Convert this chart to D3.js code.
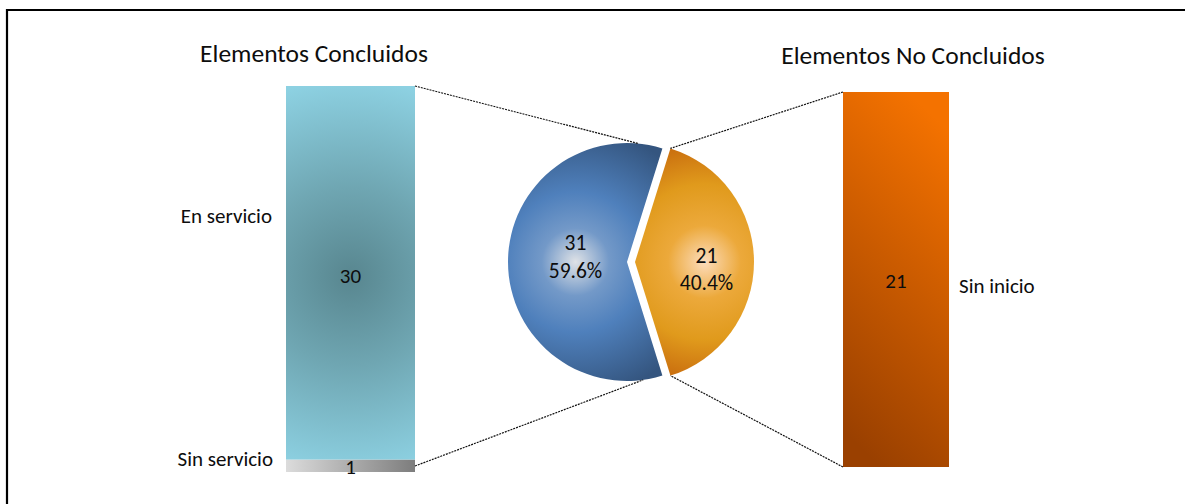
<!DOCTYPE html>
<html>
<head>
<meta charset="utf-8">
<script src="https://cdn.jsdelivr.net/npm/d3@7"></script>
<style>
  html, body { margin: 0; padding: 0; background: #fff; }
  svg { display: block; }
  text { font-family: Calibri, Carlito, Lato, "Noto Sans", sans-serif; fill: #0d0d0d; }
</style>
</head>
<body>
<svg id="chart" width="1185" height="504"></svg>
<script>
// ---------- data ----------
const pieCategories = ["Elementos Concluidos", "Elementos No Concluidos"];
const pieValues = [31, 21];
const leftCategories = ["Sin servicio", "En servicio"];   // bottom -> top
const leftValues = [1, 30];
const rightCategories = ["Sin inicio"];
const rightValues = [21];
const titles = ["Elementos Concluidos", "Elementos No Concluidos"];

// ---------- layout ----------
const W = 1185, H = 504;
const LABEL_FS = 21, PIE_FS = 21.5, TITLE_FS = 25.5;
const svg = d3.select("#chart");
const defs = svg.append("defs");

// frame (top & left edge of the chart area)
svg.append("line").attr("x1", 6).attr("x2", W).attr("y1", 10).attr("y2", 10)
  .attr("stroke", "#000").attr("stroke-width", 2.2);
svg.append("line").attr("x1", 7).attr("x2", 7).attr("y1", 9).attr("y2", H)
  .attr("stroke", "#000").attr("stroke-width", 2.2);

// ---------- gradients ----------
function linGrad(id, x1, y1, x2, y2, stops) {
  const g = defs.append("linearGradient").attr("id", id)
    .attr("x1", x1).attr("y1", y1).attr("x2", x2).attr("y2", y2);
  stops.forEach(s => g.append("stop").attr("offset", s[0]).attr("stop-color", s[1]));
}
function radGrad(id, gx, gy, r, stops) {
  const g = defs.append("radialGradient").attr("id", id)
    .attr("gradientUnits", "userSpaceOnUse")
    .attr("cx", gx).attr("cy", gy).attr("r", r).attr("fx", gx).attr("fy", gy);
  stops.forEach(s => g.append("stop").attr("offset", s[0]).attr("stop-color", s[1]));
}

// ---------- pie ----------
const cx = 627, cy = 262, R = 119, explode = 8;
const total = d3.sum(pieValues);
const fracOther = pieValues[1] / total;
const pie = d3.pie().sort(null)
  .startAngle(Math.PI / 2 + fracOther * Math.PI)
  .endAngle(Math.PI / 2 + fracOther * Math.PI + 2 * Math.PI);
const arcs = pie(pieValues);
const arc = d3.arc().innerRadius(0).outerRadius(R);

function offsetFor(d, i) {
  if (i === 0) return [0, 0];
  const a = (d.startAngle + d.endAngle) / 2;
  return [Math.sin(a) * explode, -Math.cos(a) * explode];
}

// gradients in each slice's local (translated) coordinate system
arcs.forEach((d, i) => {
  const c = arc.centroid(d);
  if (i === 0) {
    radGrad("gPie0", c[0] + 8, c[1], 135,
      [[0, "#dfe2e6"], [0.25, "#7399c8"], [0.52, "#4f80bc"], [1, "#34557f"]]);
  } else {
    radGrad("gPie1", c[0] + 10, c[1], 130,
      [[0, "#fcdcbc"], [0.28, "#eca93b"], [0.6, "#e09a1c"], [1, "#c3620b"]]);
  }
});

const pieG = svg.append("g");
pieG.selectAll("path").data(arcs).join("path")
  .attr("transform", (d, i) => {
    const [ox, oy] = offsetFor(d, i);
    return `translate(${cx + ox},${cy + oy})`;
  })
  .attr("d", arc)
  .attr("fill", (d, i) => `url(#gPie${i})`);

// pie labels
const pieLabelShift = [[8, -12, 16], [12, 1, 28]];   // dx, dy of value line, dy of percent line
arcs.forEach((d, i) => {
  const [ox, oy] = offsetFor(d, i);
  const c = arc.centroid(d);
  const px = cx + ox + c[0] + pieLabelShift[i][0];
  const py = cy + oy + c[1];
  const t = svg.append("text").attr("text-anchor", "middle").attr("font-size", PIE_FS);
  t.append("tspan").attr("x", px).attr("y", py + pieLabelShift[i][1]).text(pieValues[i]);
  t.append("tspan").attr("x", px).attr("y", py + pieLabelShift[i][2])
    .text(d3.format(".1%")(pieValues[i] / total));
});

// ---------- left bar (stacked) ----------
const leftX0 = 286, leftX1 = 415, leftTop = 86, leftBot = 472;
const yL = d3.scaleLinear().domain([0, d3.sum(leftValues)]).range([leftBot, leftTop]);
const leftStack = [];
let acc = 0;
leftValues.forEach((v, i) => { leftStack.push({ cat: leftCategories[i], v, y0: acc, y1: acc + v }); acc += v; });

linGrad("gGray", 0, 0, 1, 0, [[0, "#dcdcdc"], [1, "#7d7d7d"]]);
const seg1 = leftStack[1];
const s1cx = (leftX0 + leftX1) / 2, s1cy = (yL(seg1.y1) + yL(seg1.y0)) / 2 + 4;
radGrad("gTeal", s1cx, s1cy, Math.hypot((leftX1 - leftX0) / 2, (yL(seg1.y0) - yL(seg1.y1)) / 2),
  [[0, "#58868f"], [0.45, "#6fa6b2"], [1, "#8dd1e2"]]);

svg.append("g").selectAll("rect").data(leftStack).join("rect")
  .attr("x", leftX0).attr("width", leftX1 - leftX0)
  .attr("y", d => yL(d.y1)).attr("height", d => yL(d.y0) - yL(d.y1))
  .attr("fill", (d, i) => i === 0 ? "url(#gGray)" : "url(#gTeal)");

// left labels
svg.append("g").selectAll("text").data(leftStack).join("text")
  .attr("x", (leftX0 + leftX1) / 2).attr("text-anchor", "middle").attr("font-size", LABEL_FS)
  .attr("y", (d, i) => i === 0 ? yL(d.y0) + 2 : (yL(d.y0) + yL(d.y1)) / 2 + 10)
  .text(d => d.v);
svg.append("text").attr("x", 272).attr("y", 223).attr("text-anchor", "end").attr("font-size", LABEL_FS)
  .text(leftCategories[1]);
svg.append("text").attr("x", 273).attr("y", 466).attr("text-anchor", "end").attr("font-size", LABEL_FS)
  .text(leftCategories[0]);

// ---------- right bar ----------
const rightX0 = 843, rightX1 = 949, rightTop = 92, rightBot = 467;
const yR = d3.scaleLinear().domain([0, d3.sum(rightValues)]).range([rightBot, rightTop]);
linGrad("gOrange", 0.62, 0, 0.35, 1, [[0, "#f47200"], [1, "#9a4000"]]);
svg.append("g").selectAll("rect").data(rightValues).join("rect")
  .attr("x", rightX0).attr("width", rightX1 - rightX0)
  .attr("y", d => yR(d)).attr("height", d => yR(0) - yR(d))
  .attr("fill", "url(#gOrange)");
svg.append("g").selectAll("text").data(rightValues).join("text")
  .attr("x", (rightX0 + rightX1) / 2).attr("text-anchor", "middle").attr("font-size", LABEL_FS)
  .attr("y", d => (yR(0) + yR(d)) / 2 + 8).text(d => d);
svg.append("text").attr("x", 959).attr("y", 293).attr("font-size", LABEL_FS).text(rightCategories[0]);

// ---------- titles ----------
svg.append("text").attr("x", 314).attr("y", 62).attr("text-anchor", "middle").attr("font-size", TITLE_FS).text(titles[0]);
svg.append("text").attr("x", 913).attr("y", 64).attr("text-anchor", "middle").attr("font-size", TITLE_FS).text(titles[1]);

// ---------- connector lines ----------
const blue = arcs[0], orange = arcs[1];
const [oox, ooy] = offsetFor(orange, 1);
function onArc(a, ox, oy) { return [cx + ox + Math.sin(a) * R, cy + oy - Math.cos(a) * R]; }
const deg = Math.PI / 180;
const connectors = [
  [[leftX1, yL(d3.sum(leftValues))], onArc(blue.endAngle - 12 * deg, 0, 0)],
  [[leftX1, yL(0) - 6], onArc(blue.startAngle + 9.5 * deg, 0, 0)],
  [[rightX0, yR(d3.sum(rightValues))], onArc(orange.startAngle, oox, ooy)],
  [[rightX0, yR(0)], onArc(orange.endAngle, oox, ooy)]
];
svg.append("g").selectAll("line").data(connectors).join("line")
  .attr("x1", d => d[0][0]).attr("y1", d => d[0][1])
  .attr("x2", d => d[1][0]).attr("y2", d => d[1][1])
  .attr("stroke", "#111").attr("stroke-width", 1.2).attr("stroke-dasharray", "2,1");
</script>
</body>
</html>
